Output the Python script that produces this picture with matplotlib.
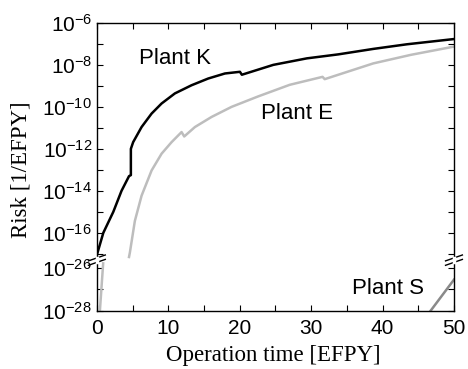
import numpy as np
import matplotlib
matplotlib.use("Agg")
import matplotlib.pyplot as plt
from matplotlib.lines import Line2D

plt.rcParams['font.family'] = ['Liberation Sans', 'DejaVu Sans']
plt.rcParams['mathtext.fontset'] = 'custom'
plt.rcParams['mathtext.rm'] = 'Liberation Sans'
plt.rcParams['mathtext.default'] = 'rm'

# values (risk given as log10)
k_time = [0, 0.9, 2.3, 3.45, 4.5, 4.76, 4.76, 5.08, 6.26, 7.66, 9.06, 10.92,
          13.26, 15.59, 17.93, 20.03, 20.3, 24.7, 29.4, 33.8, 38.7, 43.4, 50]
k_logrisk = [-17.05, -16.0, -15.0, -14.0, -13.3, -13.25, -12.0, -11.68,
             -10.96, -10.32, -9.84, -9.36, -8.97, -8.65, -8.41, -8.33, -8.47,
             -8.0, -7.69, -7.5, -7.24, -7.02, -6.77]

e_time = [4.5, 4.62, 5.32, 6.26, 7.66, 9.06, 10.46, 11.86, 12.23, 13.73, 16.06,
          18.86, 22.6, 27.0, 31.6, 31.9, 38.7, 44.0, 50]
e_logrisk = [-17.15, -16.94, -15.43, -14.23, -13.03, -12.23, -11.68, -11.2,
             -11.41, -10.96, -10.48, -10.0, -9.5, -8.95, -8.57, -8.68, -7.93,
             -7.52, -7.13]
e_early_time = [0.42, 0.88]
e_early_logrisk = [-28.0, -25.8]

s_time = [46.7, 50]
s_logrisk = [-28.0, -26.55]

top_ticks = [-6, -8, -10, -12, -14, -16]
bottom_ticks = [-26, -28]

fig = plt.figure(figsize=(4.68, 3.69), dpi=100)
ax_top = fig.add_axes([0.207, 0.295, 0.763, 0.643])
ax_bot = fig.add_axes([0.207, 0.157, 0.763, 0.138])

black = '#000000'
light = '#bdbdbd'
mid = '#8a8a8a'

for ax in (ax_top, ax_bot):
    ax.set_yscale('log')
    ax.plot(k_time, 10.0 ** np.array(k_logrisk), color=black, lw=1.8)
    ax.plot(e_time, 10.0 ** np.array(e_logrisk), color=light, lw=1.8)
    ax.plot(e_early_time, 10.0 ** np.array(e_early_logrisk), color=light, lw=1.8)
    ax.plot(s_time, 10.0 ** np.array(s_logrisk), color=mid, lw=1.8)
    ax.set_xlim(0, 50)
    ax.set_xticks(np.arange(0, 51, 5))
    ax.tick_params(which='both', direction='in', length=4, width=0.8,
                   labelsize=15, right=True)
    for sp in ax.spines.values():
        sp.set_linewidth(1.0)

ax_top.set_ylim(10 ** -17.3, 1e-6)
ax_top.set_yticks([10.0 ** p for p in top_ticks])
ax_top.set_yticklabels(['$10^{%d}$' % p for p in top_ticks])
ax_top.set_yticks([10.0 ** p for p in range(-17, -6, 2)], minor=True)
ax_top.yaxis.set_minor_formatter(plt.NullFormatter())
ax_top.spines['bottom'].set_visible(False)
ax_top.tick_params(which='both', bottom=False, labelbottom=False, top=True)

ax_bot.set_ylim(1e-28, 10 ** -25.65)
ax_bot.set_yticks([10.0 ** p for p in bottom_ticks])
ax_bot.set_yticklabels(['$10^{%d}$' % p for p in bottom_ticks])
ax_bot.set_yticks([1e-27], minor=True)
ax_bot.yaxis.set_minor_formatter(plt.NullFormatter())
ax_bot.spines['top'].set_visible(False)
ax_bot.set_xticklabels([str(v) if v % 10 == 0 else '' for v in range(0, 51, 5)])
ax_bot.tick_params(axis='x', pad=6)

# axis break marks
for xf in (0.207, 0.970):
    for dy in (-0.006, 0.006):
        y0 = 0.295 + dy
        fig.add_artist(Line2D([xf - 0.018, xf + 0.018], [y0 - 0.008, y0 + 0.008],
                              color='black', lw=1.0, transform=fig.transFigure))
    fig.add_artist(Line2D([xf, xf], [0.289, 0.301], color='white', lw=2.5,
                          transform=fig.transFigure, zorder=3))

ax_top.text(0.22, 0.85, 'Plant K', transform=ax_top.transAxes, fontsize=16,
            ha='center', va='center')
ax_top.text(0.56, 0.62, 'Plant E', transform=ax_top.transAxes, fontsize=16,
            ha='center', va='center')
fig.text(388 / 468, 1 - 288 / 369, 'Plant S', fontsize=16, ha='center',
         va='center')

fig.text(0.583, 1 - 356 / 369, 'Operation time [EFPY]', fontsize=16.5,
         family='Liberation Serif', ha='center', va='center')
fig.text(0.045, 1 - 170 / 369, 'Risk [1/EFPY]', fontsize=16.5,
         family='Liberation Serif', ha='center', va='center', rotation=90)

fig.savefig('out.png', dpi=100)
